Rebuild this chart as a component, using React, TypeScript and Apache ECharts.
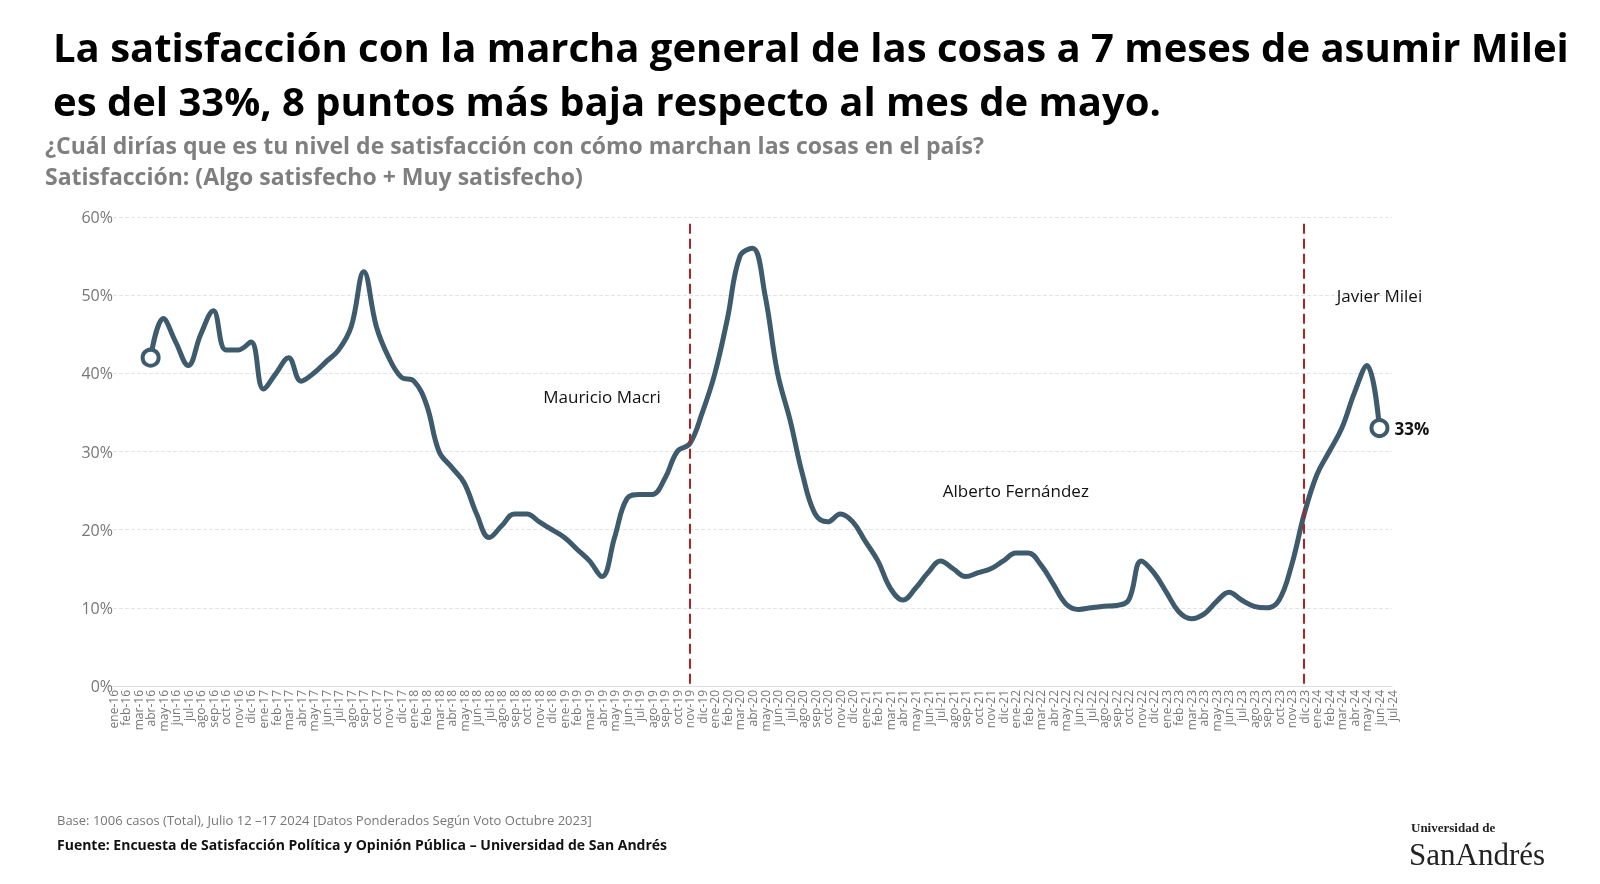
import { useEffect, useRef } from 'react';
import * as echarts from 'echarts';

const MONTHS = ['ene', 'feb', 'mar', 'abr', 'may', 'jun', 'jul', 'ago', 'sep', 'oct', 'nov', 'dic'];
const YEARS = ['16', '17', '18', '19', '20', '21', '22', '23', '24'];
const categories: string[] = [];
YEARS.forEach((y) => MONTHS.forEach((m) => categories.push(`${m}-${y}`)));
categories.splice(categories.indexOf('jul-24') + 1);

// satisfacción mensual (%), desde ene-16
const satisfaction: (number | null)[] = [
  null, null, null, 42, 47, 44, 41, 45, 48, 43, 43, 44,
  38, 40, 42, 39, 40, 41.5, 43, 46, 53, 46, 42, 39.5,
  39, 36, 30, 28, 26, 22, 19, 20.5, 22, 22, 21, 20,
  19, 17.5, 16, 14, 19, 24, 24.5, 24.5, 26.5, 30, 31, 35,
  40, 47, 55, 56, 50, 40, 34, 27, 22, 21, 22, 21,
  18.5, 16, 12.5, 11, 12.5, 14.5, 16, 15, 14, 14.5, 15, 16,
  17, 17, 15.5, 13, 10.5, 9.8, 10, 10.2, 10.3, 11, 16, 14.5,
  12, 9.5, 8.6, 9.2, 10.8, 12, 11, 10.2, 10, 11, 15.5, 22,
  27, 30, 33, 37.5, 41, 33, null,
];

const yTicks = [0, 10, 20, 30, 40, 50, 60];
const periods = [
  { name: 'Mauricio Macri', at: 'abr-19', y: 37 },
  { name: 'Alberto Fernández', at: 'ene-22', y: 25 },
  { name: 'Javier Milei', at: 'jun-24', y: 50 },
];
const changeIndexes = [46, 94.6];

const FONT = '"Open Sans", "Noto Sans", sans-serif';
const LINE = '#3d5b6c';

export default function App() {
  const ref = useRef<HTMLDivElement>(null);

  useEffect(() => {
    if (!ref.current) return;
    const chart = echarts.init(ref.current, undefined, { renderer: 'svg' });
    const first = satisfaction.findIndex((v) => v != null);
    let last = satisfaction.length - 1;
    while (satisfaction[last] == null) last--;

    const data = satisfaction.map((v, i) =>
      i === first || i === last
        ? {
            value: v,
            symbol: 'circle',
            symbolSize: 16,
            itemStyle: { color: '#fff', borderColor: LINE, borderWidth: 4 },
            label: i === last
              ? { show: true, position: 'right', formatter: '{c}%', color: '#111', fontWeight: 'bold', fontSize: 17, fontFamily: FONT }
              : { show: false },
          }
        : { value: v, symbol: 'none' },
    );

    chart.setOption({
      animation: false,
      textStyle: { fontFamily: FONT },
      title: [
        {
          text: 'La satisfacción con la marcha general de las cosas a 7 meses de asumir Milei\nes del 33%, 8 puntos más baja respecto al mes de mayo.',
          left: 48, top: 14,
          textStyle: { fontSize: 40, fontWeight: 'bold', color: '#000', lineHeight: 54, fontFamily: FONT },
        },
        {
          text: '¿Cuál dirías que es tu nivel de satisfacción con cómo marchan las cosas en el país?\nSatisfacción: (Algo satisfecho + Muy satisfecho)',
          left: 40, top: 124,
          textStyle: { fontSize: 23, fontWeight: 'bold', color: '#7f7f7f', lineHeight: 31, fontFamily: FONT },
        },
        {
          text: 'Base: 1006 casos (Total), Julio 12 –17 2024 [Datos Ponderados Según Voto Octubre 2023]',
          left: 52, top: 808,
          textStyle: { fontSize: 13, fontWeight: 'normal', color: '#777', fontFamily: FONT },
        },
        {
          text: 'Fuente: Encuesta de Satisfacción Política y Opinión Pública – Universidad de San Andrés',
          left: 52, top: 832,
          textStyle: { fontSize: 14, fontWeight: 'bold', color: '#111', fontFamily: FONT },
        },
        {
          text: 'Universidad de',
          left: 1406, top: 816,
          textStyle: { fontSize: 13, fontWeight: 'bold', color: '#222', fontFamily: 'Liberation Serif, serif' },
        },
        {
          text: 'SanAndrés',
          left: 1404, top: 834,
          textStyle: { fontSize: 31, fontWeight: 'normal', color: '#222', fontFamily: 'Liberation Serif, serif' },
        },
      ],
      grid: { left: 113, right: 208, top: 217, bottom: 198 },
      xAxis: {
        type: 'category',
        data: categories,
        boundaryGap: false,
        axisLine: { lineStyle: { color: '#ddd' } },
        axisTick: { show: false },
        axisLabel: { rotate: 90, interval: 0, color: '#777', fontSize: 12, margin: 4 },
      },
      yAxis: {
        type: 'value',
        min: yTicks[0],
        max: yTicks[yTicks.length - 1],
        interval: 10,
        axisLabel: { formatter: '{value}%', color: '#777', fontSize: 16, margin: 0, align: 'right' },
        splitLine: { lineStyle: { color: '#e4e4e4', type: 'dashed' } },
        axisLine: { show: false },
      },
      series: [
        {
          type: 'line',
          data,
          smooth: 0.4,
          connectNulls: true,
          lineStyle: { color: LINE, width: 5 },
          itemStyle: { color: LINE },
          markLine: {
            silent: true,
            symbol: 'none',
            label: { show: false },
            lineStyle: { color: '#b22222', type: [10, 5], width: 2 },
            data: changeIndexes.map((x) => [
              { coord: [x, 0.3] },
              { coord: [x, 59.2] },
            ]),
          },
          markPoint: {
            symbol: 'circle',
            symbolSize: 0,
            label: { show: true, color: '#111', fontSize: 17, fontFamily: FONT },
            data: periods.map((p) => ({ coord: [p.at, p.y], value: p.name })),
          },
        },
      ],
    });

    return () => chart.dispose();
  }, []);

  return <div ref={ref} style={{ position: 'fixed', left: 0, top: 0, width: '100vw', height: '100vh' }} />;
}
